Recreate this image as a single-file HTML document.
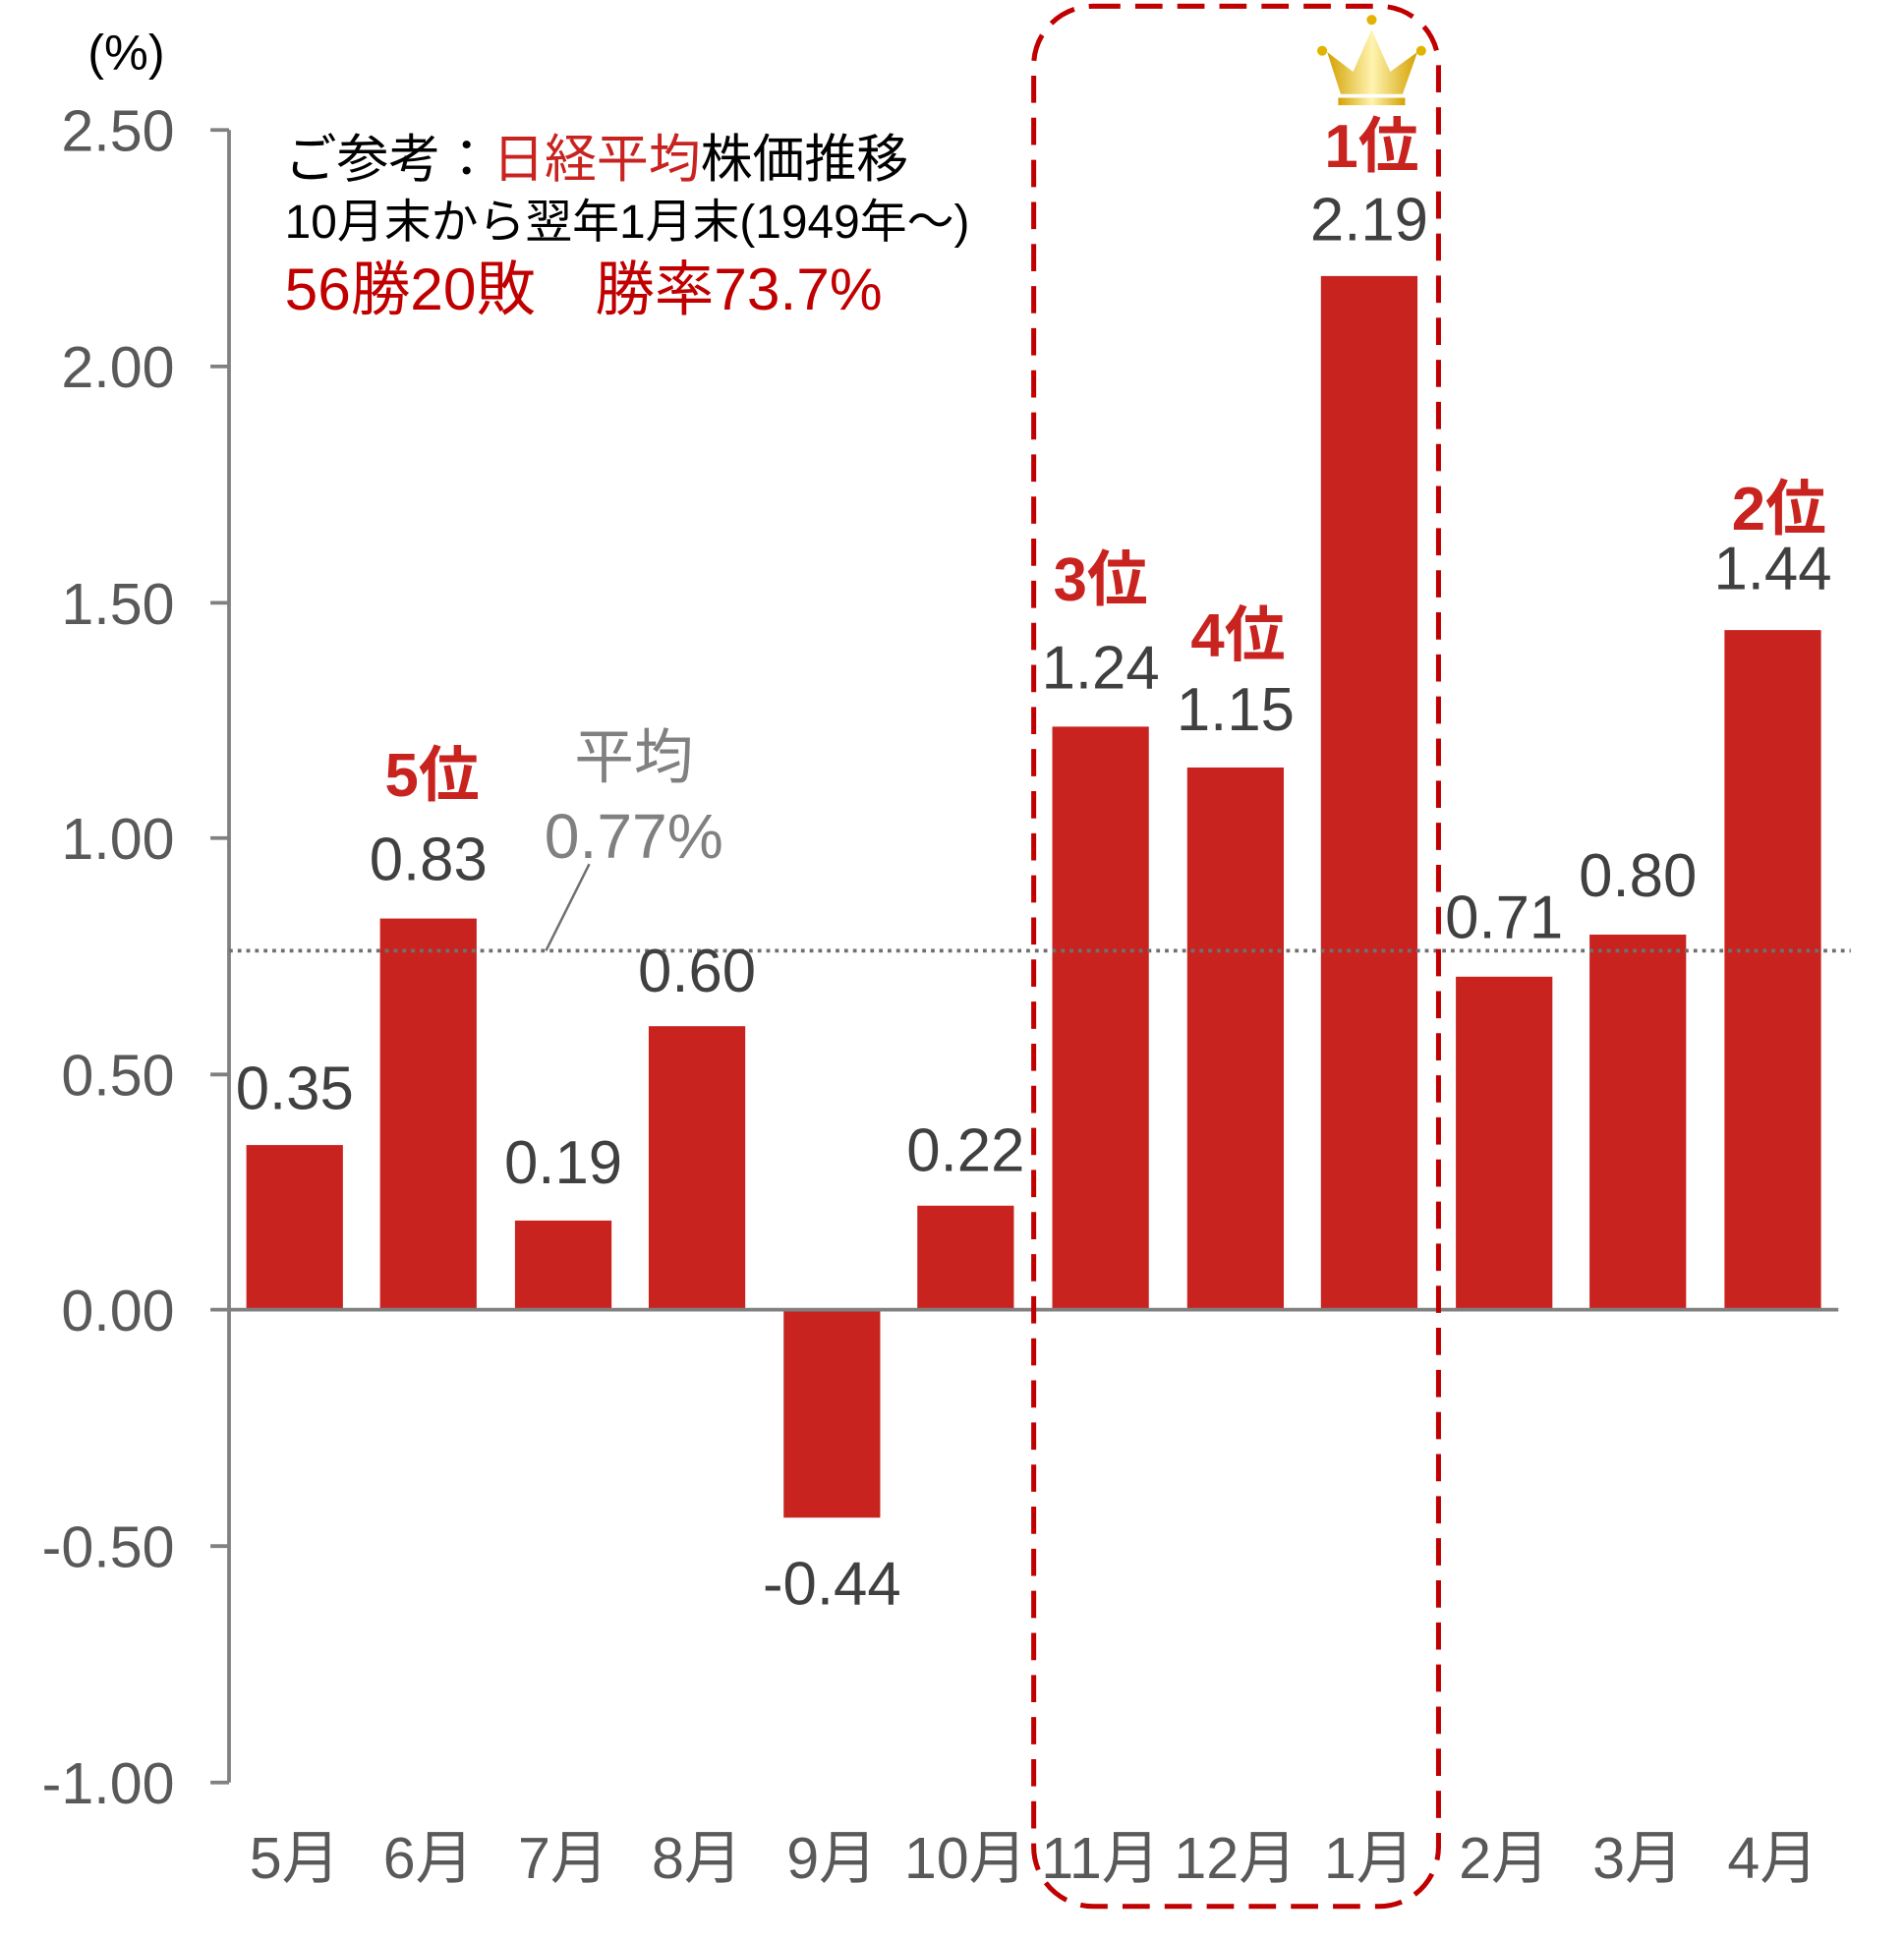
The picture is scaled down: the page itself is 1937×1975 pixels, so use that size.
<!DOCTYPE html>
<html><head><meta charset="utf-8"><style>html,body{margin:0;padding:0;background:#fff}svg{display:block}</style></head>
<body>
<svg width="1937" height="1975" viewBox="0 0 1538 1568" preserveAspectRatio="none" xmlns="http://www.w3.org/2000/svg" font-family="'Liberation Sans','Noto Sans CJK JP',sans-serif">
<defs>
<linearGradient id="g" x1="0" y1="0" x2="1" y2="0">
<stop offset="0" stop-color="#d4a100"/><stop offset="0.5" stop-color="#fff4b0"/><stop offset="1" stop-color="#d4a100"/>
</linearGradient>
</defs>
<g stroke="#808080" stroke-width="3" fill="none">
<line x1="185" y1="105" x2="185" y2="1440"/>
<line x1="170" y1="105" x2="185" y2="105"/>
<line x1="170" y1="296" x2="185" y2="296"/>
<line x1="170" y1="487" x2="185" y2="487"/>
<line x1="170" y1="677" x2="185" y2="677"/>
<line x1="170" y1="868" x2="185" y2="868"/>
<line x1="170" y1="1058" x2="185" y2="1058"/>
<line x1="170" y1="1249" x2="185" y2="1249"/>
<line x1="170" y1="1440" x2="185" y2="1440"/>
</g>
<g font-size="47" fill="#595959" text-anchor="end">
<text x="141" y="122">2.50</text>
<text x="141" y="313">2.00</text>
<text x="141" y="504">1.50</text>
<text x="141" y="694">1.00</text>
<text x="141" y="885">0.50</text>
<text x="141" y="1075">0.00</text>
<text x="141" y="1266">-0.50</text>
<text x="141" y="1457">-1.00</text>
</g>
<text x="102" y="56" font-size="40" fill="#000" text-anchor="middle">(%)</text>
<g fill="#C8231F">
<rect x="199" y="925" width="78" height="133"/>
<rect x="307" y="742" width="78" height="316"/>
<rect x="416" y="986" width="78" height="72"/>
<rect x="524" y="829" width="78" height="229"/>
<rect x="633" y="1058" width="78" height="168"/>
<rect x="741" y="974" width="78" height="84"/>
<rect x="850" y="587" width="78" height="471"/>
<rect x="959" y="620" width="78" height="438"/>
<rect x="1067" y="223" width="78" height="835"/>
<rect x="1176" y="789" width="78" height="269"/>
<rect x="1284" y="755" width="78" height="303"/>
<rect x="1393" y="509" width="78" height="549"/>
</g>
<line x1="185" y1="1058" x2="1485" y2="1058" stroke="#808080" stroke-width="3"/>
<line x1="185" y1="768" x2="1495" y2="768" stroke="#707070" stroke-width="3" stroke-dasharray="3 4"/>
<line x1="476" y1="698" x2="441" y2="768" stroke="#707070" stroke-width="2"/>
<g fill="#808080" text-anchor="middle">
<text x="512" y="628" font-size="48">平均</text>
<text x="512" y="693" font-size="51">0.77%</text>
</g>
<g font-size="49" fill="#404040" text-anchor="middle">
<text x="238" y="896">0.35</text>
<text x="346" y="711">0.83</text>
<text x="455" y="956">0.19</text>
<text x="563" y="801">0.60</text>
<text x="672" y="1296">-0.44</text>
<text x="780" y="946">0.22</text>
<text x="889" y="556">1.24</text>
<text x="998" y="590">1.15</text>
<text x="1106" y="194">2.19</text>
<text x="1215" y="758">0.71</text>
<text x="1323" y="724">0.80</text>
<text x="1432" y="476">1.44</text>
</g>
<g font-size="49" fill="#C8231F" text-anchor="middle" font-weight="bold">
<text x="349" y="643">5位</text>
<text x="889" y="485">3位</text>
<text x="1000" y="530">4位</text>
<text x="1108" y="135">1位</text>
<text x="1437" y="428">2位</text>
</g>
<g font-size="47" fill="#595959" text-anchor="middle">
<text x="238" y="1517">5月</text>
<text x="346" y="1517">6月</text>
<text x="455" y="1517">7月</text>
<text x="563" y="1517">8月</text>
<text x="672" y="1517">9月</text>
<text x="780" y="1517">10月</text>
<text x="889" y="1517">11月</text>
<text x="998" y="1517">12月</text>
<text x="1106" y="1517">1月</text>
<text x="1215" y="1517">2月</text>
<text x="1323" y="1517">3月</text>
<text x="1432" y="1517">4月</text>
</g>
<text x="230" y="143" font-size="42" fill="#000">ご参考：<tspan fill="#C8231F">日経平均</tspan>株価推移</text>
<text x="230" y="192" font-size="38" fill="#000">10月末から翌年1月末(1949年～)</text>
<text x="230" y="250" font-size="48" fill="#C00000">56勝20敗　勝率73.7%</text>
<rect x="835" y="5" width="327" height="1535" rx="48" ry="48" fill="none" stroke="#C00000" stroke-width="4" stroke-dasharray="22 12"/>
<g>
<path d="M1072 42 L1093 58 L1108 24 L1123 58 L1145 42 L1133 76 L1083 76 Z" fill="url(#g)"/>
<rect x="1081" y="79" width="54" height="6" fill="url(#g)"/>
<circle cx="1108" cy="16" r="4" fill="#e0b400"/>
<circle cx="1068" cy="41" r="4" fill="#e0b400"/>
<circle cx="1148" cy="41" r="4" fill="#e0b400"/>
</g>
</svg>
</body></html>
